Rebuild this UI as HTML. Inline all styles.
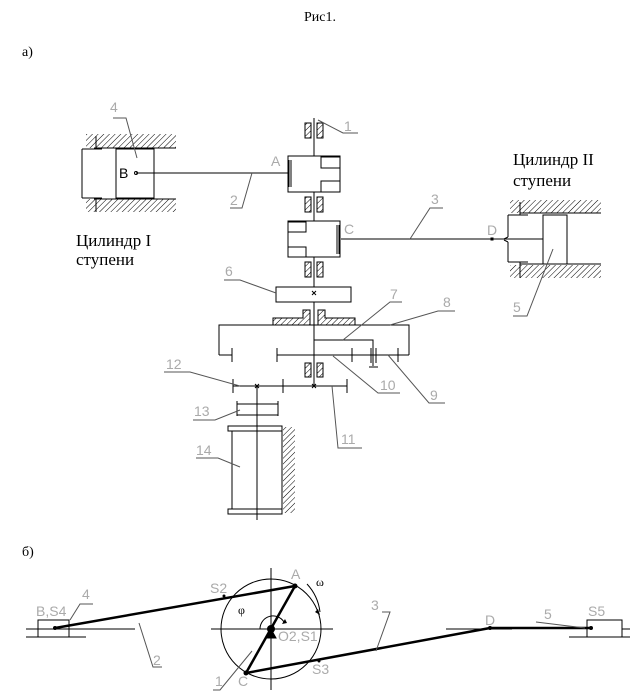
<!DOCTYPE html>
<html><head><meta charset="utf-8"><style>
body{margin:0;background:#fff}
svg{display:block}
.t{font-family:"Liberation Serif",serif;fill:#000}
.g{font-family:"Liberation Sans",sans-serif;fill:#aaa;font-size:14px}
</style></head><body>
<svg width="641" height="695" viewBox="0 0 641 695" xmlns="http://www.w3.org/2000/svg">
<defs>
<pattern id="h" patternUnits="userSpaceOnUse" width="4" height="4" patternTransform="rotate(45)">
<line x1="0" y1="0" x2="0" y2="4" stroke="#000" stroke-width="1"/></pattern>
</defs>
<text class="t" x="304" y="21" font-size="14">Рис1.</text>
<text class="t" x="22" y="56" font-size="14">а)</text>
<text class="t" x="22" y="556" font-size="14">б)</text>
<g stroke="#000" stroke-width="1" fill="none">
<!-- left cylinder -->
<rect x="86" y="134" width="90" height="14" fill="url(#h)" stroke="none"/>
<rect x="86" y="199" width="90" height="13" fill="url(#h)" stroke="none"/>
<line x1="94" y1="148" x2="176" y2="148"/><line x1="94" y1="199" x2="176" y2="199"/>
<line x1="82" y1="149" x2="82" y2="198"/><line x1="82" y1="149" x2="102" y2="149"/><line x1="82" y1="198" x2="102" y2="198"/>
<line x1="96" y1="136" x2="96" y2="149"/><line x1="96" y1="198" x2="96" y2="212"/>
<rect x="116" y="149" width="38" height="49" fill="#fff"/>
<line x1="136" y1="173" x2="288" y2="173"/>
<circle cx="136" cy="173" r="1.5"/>
<!-- shaft -->
<line x1="314" y1="118" x2="314" y2="385"/>
<!-- bearings -->
<g fill="url(#h)">
<rect x="305" y="123" width="6" height="15"/><rect x="317" y="123" width="6" height="15"/>
<rect x="305" y="197" width="6" height="15"/><rect x="317" y="197" width="6" height="15"/>
<rect x="305" y="262" width="6" height="15"/><rect x="317" y="262" width="6" height="15"/>
<rect x="305" y="363" width="6" height="14" /><rect x="317" y="363" width="6" height="14"/>
<path d="M273 325 L273 318 L303 318 L303 310 L310 310 L310 325 Z"/>
<path d="M355 325 L355 318 L325 318 L325 310 L318 310 L318 325 Z"/>
</g>
<!-- block A -->
<rect x="288" y="156" width="52" height="36" fill="#fff"/>
<rect x="321" y="157" width="19" height="11" fill="#fff"/><rect x="321" y="181" width="19" height="11" fill="#fff"/>
<line x1="289" y1="160" x2="289" y2="187"/><line x1="291" y1="160" x2="291" y2="187"/>
<!-- block C -->
<rect x="288" y="221" width="52" height="36" fill="#fff"/>
<rect x="288" y="222" width="18" height="10" fill="#fff"/><rect x="288" y="247" width="18" height="10" fill="#fff"/>
<line x1="337" y1="225" x2="337" y2="254"/><line x1="339" y1="225" x2="339" y2="254"/>
<line x1="341" y1="239" x2="543" y2="239"/>
<rect x="491" y="238" width="2" height="2" fill="#000"/>
<!-- right cylinder -->
<rect x="510" y="200" width="91" height="13" fill="url(#h)" stroke="none"/>
<rect x="510" y="265" width="91" height="13" fill="url(#h)" stroke="none"/>
<line x1="520" y1="213" x2="601" y2="213"/><line x1="520" y1="264" x2="601" y2="264"/>
<line x1="508" y1="215" x2="508" y2="237"/><line x1="508" y1="242" x2="508" y2="262"/>
<line x1="508" y1="215" x2="528" y2="215"/><line x1="508" y1="262" x2="528" y2="262"/>
<line x1="520" y1="202" x2="520" y2="215"/><line x1="520" y1="262" x2="520" y2="278"/>
<line x1="504" y1="239" x2="508" y2="237"/><line x1="504" y1="240" x2="508" y2="242"/>
<rect x="543" y="215" width="24" height="49" fill="#fff"/>
<!-- gear 6 -->
<rect x="276" y="287" width="75" height="15" fill="#fff"/>
<path d="M312 291 l4 4 M316 291 l-4 4"/>
<!-- box 8 -->
<path d="M219 355 L219 325 L409 325 L409 355"/>
<line x1="219" y1="355" x2="232" y2="355"/><line x1="232" y1="348" x2="232" y2="362"/>
<line x1="277" y1="355" x2="409" y2="355"/>
<line x1="277" y1="348" x2="277" y2="362"/><line x1="352" y1="348" x2="352" y2="362"/><line x1="398" y1="348" x2="398" y2="362"/>
<path d="M314 340 L373 340 L373 366"/>
<line x1="371" y1="348" x2="371" y2="363"/><line x1="376" y1="348" x2="376" y2="363"/><line x1="369" y1="367" x2="378" y2="367"/>
<!-- shaft 12 -->
<line x1="233" y1="386" x2="347" y2="386"/>
<line x1="233" y1="379" x2="233" y2="393"/><line x1="283" y1="379" x2="283" y2="393"/><line x1="347" y1="379" x2="347" y2="393"/>
<path d="M255 384 l4 4 M259 384 l-4 4 M312 384 l4 4 M316 384 l-4 4"/>
<line x1="257" y1="386" x2="257" y2="520"/>
<rect x="237" y="404" width="41" height="11" fill="none"/>
<line x1="237" y1="401" x2="237" y2="416"/><line x1="278" y1="401" x2="278" y2="416"/>
<rect x="228" y="426" width="54" height="5" fill="none"/>
<rect x="228" y="509" width="54" height="5" fill="none"/>
<line x1="232" y1="431" x2="232" y2="509"/><line x1="282" y1="431" x2="282" y2="509"/>
<rect x="283" y="427" width="12" height="86" fill="url(#h)" stroke="none"/>
<line x1="282" y1="427" x2="282" y2="513"/>
<line x1="257" y1="420" x2="257" y2="520"/>
</g>
<!-- leaders (gray) -->
<g stroke="#555" stroke-width="1" fill="none">
<path d="M113 118 L126 118 L137 158"/>
<path d="M318 120 L343 133 L358 133"/>
<path d="M252 173 L242 208 L230 208"/>
<path d="M410 239 L430 208 L443 208"/>
<path d="M553 249 L527 316 L513 316"/>
<path d="M224 280 L240 280 L276 293"/>
<path d="M343 340 L390 302 L402 302"/>
<path d="M390 325 L438 311 L455 311"/>
<path d="M388 355 L429 403 L445 403"/>
<path d="M333 356 L378 393 L400 393"/>
<path d="M332 386 L338 448 L362 448"/>
<path d="M164 372 L190 372 L240 386"/>
<path d="M193 420 L215 420 L240 410"/>
<path d="M196 458 L218 458 L240 467"/>
</g>
<text class="g" x="344" y="131">1</text>
<text class="g" x="230" y="205">2</text>
<text class="g" x="431" y="204">3</text>
<text class="g" x="110" y="112">4</text>
<text class="g" x="513" y="312">5</text>
<text class="g" x="225" y="276">6</text>
<text class="g" x="390" y="299">7</text>
<text class="g" x="443" y="307">8</text>
<text class="g" x="430" y="400">9</text>
<text class="g" x="380" y="390">10</text>
<text class="g" x="341" y="444">11</text>
<text class="g" x="166" y="369">12</text>
<text class="g" x="194" y="416">13</text>
<text class="g" x="196" y="455">14</text>
<text class="g" x="271" y="166">A</text>
<text class="g" x="344" y="234">C</text>
<text class="g" x="487" y="235">D</text>
<text x="119" y="178" font-family="Liberation Sans,sans-serif" font-size="14">B</text>
<text class="t" x="76" y="246" font-size="17">Цилиндр I</text>
<text class="t" x="76" y="265" font-size="17">ступени</text>
<text class="t" x="513" y="165" font-size="17">Цилиндр II</text>
<text class="t" x="513" y="186" font-size="17">ступени</text>
<!-- part b -->
<g stroke="#000" fill="none">
<line x1="26" y1="629" x2="135" y2="629"/>
<line x1="26" y1="637" x2="86" y2="637"/>
<rect x="38" y="620" width="31" height="17"/>
<line x1="211" y1="629" x2="333" y2="629"/>
<line x1="271" y1="568" x2="271" y2="690"/>
<circle cx="271" cy="629" r="50"/>
<path d="M260 629 A13 13 0 0 1 284 622"/>
<path d="M307 584 A50 50 0 0 1 320 612"/>
<line x1="446" y1="629" x2="512" y2="629"/>
<line x1="569" y1="637" x2="630" y2="637"/>
<rect x="587" y="620" width="35" height="17"/>
<line x1="622" y1="629" x2="630" y2="629"/>
<g stroke-width="2.5">
<line x1="55" y1="628" x2="295" y2="586"/>
<line x1="295" y1="586" x2="246" y2="673"/>
<line x1="246" y1="673" x2="490" y2="628"/>
<line x1="490" y1="628" x2="590" y2="628"/>
</g>
<path d="M266 638 L271 629 L276 638 Z" fill="#000"/>
</g>
<path d="M285 619 l-3 5 l5 -1 z M318 609 l2 6 l-5 -3 z" fill="#000"/>
<g fill="#000">
<circle cx="55" cy="628" r="2"/><circle cx="295" cy="586" r="2.5"/><circle cx="246" cy="673" r="2.5"/>
<circle cx="271" cy="629" r="4"/><circle cx="490" cy="628" r="2"/><circle cx="591" cy="628" r="2"/>
<circle cx="224" cy="596" r="1.5"/><circle cx="319" cy="661" r="1.5"/>
</g>
<g stroke="#555" fill="none">
<path d="M70 620 L80 604 L93 604"/>
<path d="M139 623 L153 667 L162 667"/>
<path d="M376 651 L390 612 L382 612"/>
<path d="M252 651 L220 690 L213 690"/>
<path d="M536 622 L585 628"/>
</g>
<text class="g" x="36" y="616" font-size="11">B,S4</text>
<text class="g" x="82" y="599" font-size="12">4</text>
<text class="g" x="153" y="665" font-size="12">2</text>
<text class="g" x="210" y="593" font-size="11">S2</text>
<text class="g" x="291" y="579" font-size="12">A</text>
<text x="316" y="586" font-family="Liberation Serif,serif" font-size="12" fill="#000">ω</text>
<text x="238" y="614" font-family="Liberation Serif,serif" font-size="12" fill="#000">φ</text>
<text class="g" x="278" y="641" font-size="11">O2,S1</text>
<text class="g" x="215" y="686" font-size="12">1</text>
<text class="g" x="238" y="686" font-size="11">C</text>
<text class="g" x="312" y="674" font-size="11">S3</text>
<text class="g" x="371" y="610" font-size="12">3</text>
<text class="g" x="485" y="625" font-size="11">D</text>
<text class="g" x="544" y="619" font-size="11">5</text>
<text class="g" x="588" y="616" font-size="11">S5</text>
</svg>
</body></html>
